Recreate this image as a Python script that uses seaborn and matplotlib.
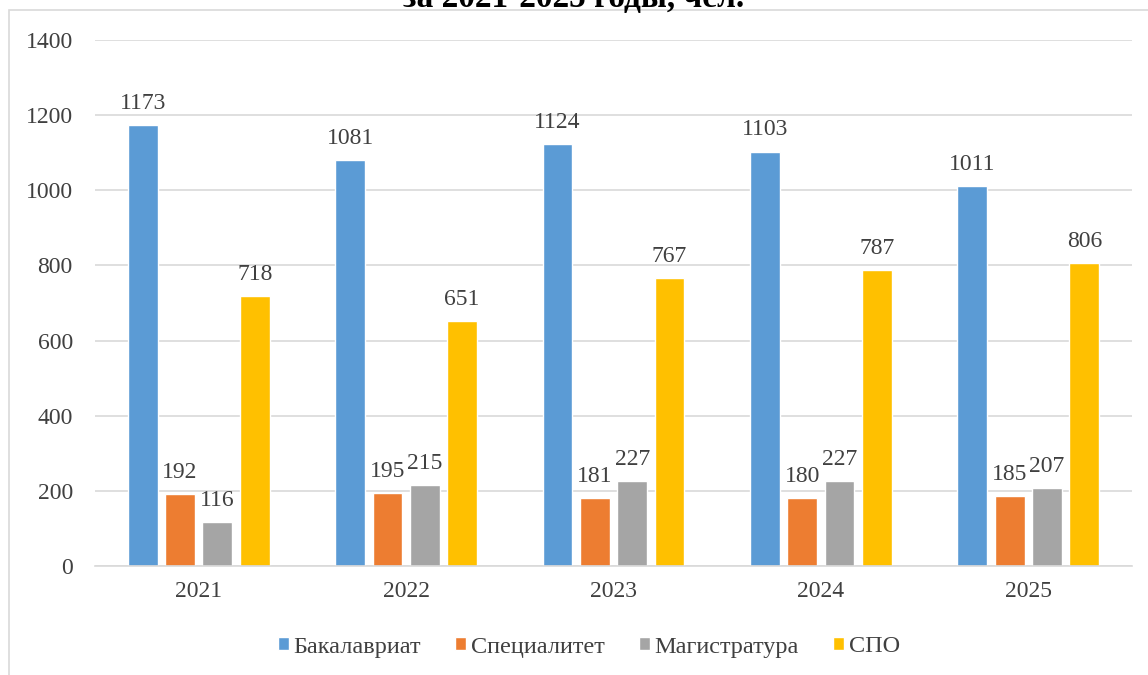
import pandas as pd
import matplotlib.pyplot as plt
import seaborn as sns
from matplotlib.patches import Rectangle, Patch

# Data
years = ["2021", "2022", "2023", "2024", "2025"]
levels = ["Бакалавриат", "Специалитет", "Магистратура", "СПО"]
bachelor = [1173, 1081, 1124, 1103, 1011]
specialist = [192, 195, 181, 180, 185]
master = [116, 215, 227, 227, 207]
spo = [718, 651, 767, 787, 806]
colors = ["#5B9BD5", "#ED7D31", "#A5A5A5", "#FFC000"]

df = pd.DataFrame({"Бакалавриат": bachelor, "Специалитет": specialist,
                   "Магистратура": master, "СПО": spo}, index=years)
long = df.reset_index(names="year").melt(id_vars="year", var_name="level", value_name="count")

sns.set_style("white")
plt.rcParams["font.family"] = ["Liberation Serif", "DejaVu Serif"]
text_color = "#404040"

fig = plt.figure(figsize=(11.48, 6.75), dpi=100)
ax = fig.add_axes([95 / 1148, 1 - 566 / 675, (1132 - 95) / 1148, (566 - 40) / 675])

sns.barplot(data=long, x="year", y="count", hue="level", hue_order=levels,
            order=years, palette=colors, width=0.72, gap=0.2, ax=ax,
            legend=False, saturation=1, errorbar=None)

for cont in ax.containers:
    ax.bar_label(cont, padding=8, fontsize=17, color=text_color)

ax.set_ylim(0, 1400)
ax.set_yticks(range(0, 1401, 200))
ax.set_xlim(-0.5, 4.5)
ax.grid(axis="y", color="#d9d9d9", linewidth=1.2)
ax.set_axisbelow(True)
for s in ["top", "right", "left"]:
    ax.spines[s].set_visible(False)
ax.spines["bottom"].set_color("#d9d9d9")
ax.spines["bottom"].set_linewidth(1.2)
ax.tick_params(axis="both", length=0, labelsize=17, labelcolor=text_color)
ax.tick_params(axis="y", pad=16)
ax.tick_params(axis="x", pad=11)
ax.set_xlabel("")
ax.set_ylabel("")

handles = [Patch(facecolor=c, label=l) for c, l in zip(colors, levels)]
fig.legend(handles=handles, loc="center", bbox_to_anchor=(0.513, 1 - 647 / 675),
           ncol=4, frameon=False, fontsize=17.5, handlelength=0.45, handleheight=0.45,
           handletextpad=0.2, columnspacing=1.4, labelcolor=text_color)

# outer chart frame
fig.patches.append(Rectangle((9 / 1148, -0.1), 1.2, 1 - 10 / 675 + 0.1,
                             transform=fig.transFigure, fill=False,
                             edgecolor="#d9d9d9", linewidth=1.2))

# title, cut off at the top of the image as in the source
fig.text(0.5, 1 - 7 / 675, "за 2021-2025 годы, чел.", ha="center", va="baseline",
         fontsize=24, fontweight="bold", color="black")

fig.savefig("out.png", dpi=100)
